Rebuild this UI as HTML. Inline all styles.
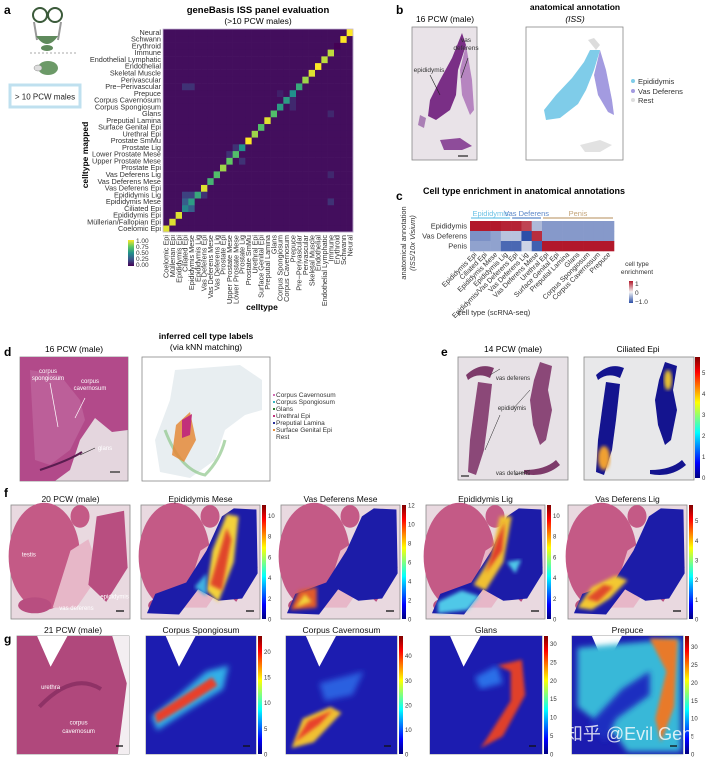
<!DOCTYPE html>
<html><head><meta charset="utf-8"><style>
html,body{margin:0;padding:0;background:#fff;}
svg{display:block;font-family:"Liberation Sans",Arial,sans-serif;}
</style></head><body>
<svg id="fig" width="720" height="764" viewBox="0 0 720 764" xmlns="http://www.w3.org/2000/svg">
<defs>
<linearGradient id="jet" x1="0" y1="1" x2="0" y2="0">
<stop offset="0" stop-color="#00007f"/><stop offset="0.125" stop-color="#0000ff"/><stop offset="0.375" stop-color="#00ffff"/><stop offset="0.625" stop-color="#ffff00"/><stop offset="0.875" stop-color="#ff0000"/><stop offset="1" stop-color="#7f0000"/>
</linearGradient>
<linearGradient id="vir" x1="0" y1="1" x2="0" y2="0">
<stop offset="0" stop-color="#440154"/><stop offset="0.25" stop-color="#3b528b"/><stop offset="0.5" stop-color="#21918c"/><stop offset="0.75" stop-color="#5ec962"/><stop offset="1" stop-color="#fde725"/>
</linearGradient>
<linearGradient id="rdbu" x1="0" y1="1" x2="0" y2="0">
<stop offset="0" stop-color="#2c4fa8"/><stop offset="0.5" stop-color="#f4f4f4"/><stop offset="1" stop-color="#b2182b"/>
</linearGradient>
<filter id="blur3"><feGaussianBlur stdDeviation="3"/></filter>
<filter id="blur2"><feGaussianBlur stdDeviation="1.8"/></filter>
</defs>

<!-- panel a -->
<text x="4" y="14" font-size="12" font-weight="bold">a</text>
<g>
<circle cx="40" cy="15" r="7" fill="none" stroke="#3b5a3a" stroke-width="2"/>
<circle cx="55" cy="15" r="7" fill="none" stroke="#3b5a3a" stroke-width="2"/>
<path d="M34 22 L37 40 M61 22 L58 40" stroke="#999" stroke-width="2" fill="none"/>
<path d="M36 36 Q47 52 58 36 Z" fill="#5f8a5c"/>
<ellipse cx="47" cy="48" rx="6" ry="3" fill="#5f8a5c"/>
<line x1="30" y1="53" x2="76" y2="53" stroke="#aaa" stroke-dasharray="2,2"/>
<ellipse cx="48" cy="68" rx="10" ry="7" fill="#6c9a68"/>
<ellipse cx="38" cy="68" rx="4" ry="3" fill="#ddd" stroke="#888" stroke-width="0.5"/>
</g>
<rect x="10" y="85" width="70" height="22" fill="#fff" stroke="#bfe0ef" stroke-width="3"/>
<text x="45" y="99.5" font-size="8" text-anchor="middle" fill="#222">&gt; 10 PCW males</text>
<text x="258" y="13" font-size="9.5" font-weight="bold" text-anchor="middle">geneBasis ISS panel evaluation</text>
<text x="258" y="24" font-size="8.5" text-anchor="middle">(&gt;10 PCW males)</text>
<g id="heatA"></g>
<text transform="translate(88,155) rotate(-90)" font-size="8.5" font-weight="bold" text-anchor="middle">celltype mapped</text>
<text x="262" y="310" font-size="8.5" font-weight="bold" text-anchor="middle">celltype</text>
<g>
<rect x="128" y="240" width="6" height="26" fill="url(#vir)"/>
<g font-size="6.5" fill="#333"><text x="136" y="243">1.00</text><text x="136" y="249">0.75</text><text x="136" y="255">0.50</text><text x="136" y="261">0.25</text><text x="136" y="267">0.00</text></g>
</g>

<!-- panel b -->
<text x="396" y="14" font-size="12" font-weight="bold">b</text>
<text x="445" y="22" font-size="8.5" text-anchor="middle">16 PCW (male)</text>
<text x="575" y="10" font-size="8.5" font-weight="bold" text-anchor="middle">anatomical annotation</text>
<text x="575" y="22" font-size="8.5" font-style="italic" text-anchor="middle">(ISS)</text>
<g>
<rect x="412" y="27" width="65" height="133" fill="#e9e3e8" stroke="#888" stroke-width="0.8"/>
<path d="M462 33 L466 45 L458 70 L456 95 L450 110 L436 120 L428 116 L430 100 L440 80 L452 58 Z" fill="#7a2f86"/>
<path d="M466 45 L472 80 L474 110 L470 115 L462 95 L460 70 Z" fill="#b685c0"/>
<path d="M440 140 L460 138 L472 146 L462 150 L444 150 Z" fill="#8e4c9a"/>
<path d="M420 115 L426 118 L424 128 L418 125 Z" fill="#aa7fb5"/>
<line x1="468" y1="58" x2="461" y2="78" stroke="#222" stroke-width="0.6"/>
<line x1="430" y1="75" x2="440" y2="95" stroke="#222" stroke-width="0.6"/>
<line x1="458" y1="156" x2="468" y2="156" stroke="#222" stroke-width="1.2"/>
<text x="466" y="42" font-size="6.5" text-anchor="middle" fill="#333">vas</text>
<text x="466" y="50" font-size="6.5" text-anchor="middle" fill="#333">deferens</text>
<text x="429" y="72" font-size="6.5" text-anchor="middle" fill="#333">epididymis</text>
</g>
<g>
<rect x="526" y="27" width="97" height="133" fill="#fff" stroke="#888" stroke-width="0.8"/>
<path d="M588 40 L594 38 L600 45 L596 50 Z" fill="#dcdcdc"/>
<path d="M590 50 L600 50 L594 70 L586 90 L578 104 L560 118 L546 120 L544 110 L556 95 L572 78 L584 62 Z" fill="#7fcce9"/>
<path d="M600 50 L606 70 L612 100 L614 115 L608 112 L598 95 L594 75 Z" fill="#a39be0"/>
<path d="M580 145 L600 140 L612 145 L600 152 L585 152 Z" fill="#e2e2e2"/>
</g>
<g font-size="7.5" fill="#333">
<circle cx="633" cy="81" r="2" fill="#7fcce9"/><text x="638" y="84">Epididymis</text>
<circle cx="633" cy="91" r="2" fill="#a39be0"/><text x="638" y="94">Vas Deferens</text>
<circle cx="633" cy="100" r="2" fill="#ddd"/><text x="638" y="103">Rest</text>
</g>

<!-- panel c -->
<text x="396" y="200" font-size="12" font-weight="bold">c</text>
<text x="423" y="194" font-size="9" font-weight="bold">Cell type enrichment in anatomical annotations</text>
<text transform="translate(406,243) rotate(-90)" font-size="7.5" text-anchor="middle" fill="#333">anatomical annotation</text>
<text transform="translate(415,243) rotate(-90)" font-size="7.5" font-style="italic" text-anchor="middle" fill="#333">(ISS/10x Visium)</text>
<g id="heatC"></g>
<text x="494" y="315" font-size="7.5" text-anchor="middle" fill="#333">cell type (scRNA-seq)</text>
<g>
<text x="637" y="266" font-size="6.5" text-anchor="middle" fill="#333">cell type</text>
<text x="637" y="274" font-size="6.5" text-anchor="middle" fill="#333">enrichment</text>
<rect x="629" y="281" width="4" height="22" fill="url(#rdbu)"/>
<g font-size="6.5" fill="#333"><text x="635" y="286">1</text><text x="635" y="295">0</text><text x="635" y="304">−1.0</text></g>
</g>

<!-- panel d -->
<text x="4" y="356" font-size="12" font-weight="bold">d</text>
<text x="74" y="352" font-size="8.5" text-anchor="middle">16 PCW (male)</text>
<text x="206" y="339" font-size="8.5" font-weight="bold" text-anchor="middle">inferred cell type labels</text>
<text x="206" y="350" font-size="8.5" text-anchor="middle">(via kNN matching)</text>
<g>
<rect x="20" y="357" width="108" height="124" fill="#e4d6de" stroke="#888" stroke-width="0.8"/>
<path d="M20 357 L128 357 L128 430 L112 432 L95 418 L80 440 L70 470 L55 481 L20 481 Z" fill="#b24a8a"/>
<path d="M30 370 L60 375 L80 400 L85 420 L70 450 L50 465 L35 460 Z" fill="#c068a0" opacity="0.7"/>
<path d="M40 470 Q70 460 82 452" stroke="#5a1d50" stroke-width="2" fill="none"/>
<g stroke="#fff" stroke-width="0.7"><line x1="50" y1="383" x2="58" y2="427"/><line x1="85" y1="398" x2="75" y2="418"/></g>
<line x1="95" y1="448" x2="80" y2="455" stroke="#222" stroke-width="0.6"/>
<g font-size="6" fill="#fff" text-anchor="middle"><text x="48" y="373">corpus</text><text x="48" y="380">spongiosum</text><text x="90" y="383">corpus</text><text x="90" y="390">cavernosum</text></g>
<text x="105" y="450" font-size="6" fill="#fff" text-anchor="middle">glans</text>
<line x1="110" y1="472" x2="120" y2="472" stroke="#222" stroke-width="1.2"/>
</g>
<g>
<rect x="142" y="357" width="128" height="124" fill="#fff" stroke="#888" stroke-width="0.8"/>
<path d="M175 370 L240 365 L262 380 L262 410 L245 415 L225 430 L215 460 L190 478 L160 472 L155 440 L170 400 Z" fill="#e8eef1"/>
<path d="M165 430 Q180 470 205 475 Q220 460 225 440" stroke="#8fc68a" stroke-width="3" fill="none" opacity="0.7"/>
<path d="M176 425 L190 412 L196 440 L184 462 L172 455 Z" fill="#e48a3a" opacity="0.85"/>
<path d="M182 420 L192 414 L190 435 L182 438 Z" fill="#c2307a"/>
</g>
<g font-size="6.5" fill="#333">
<rect x="273" y="394" width="2" height="2" fill="#d26fb5"/><text x="276" y="397">Corpus Cavernosum</text>
<rect x="273" y="401" width="2" height="2" fill="#39b6c1"/><text x="276" y="404">Corpus Spongiosum</text>
<rect x="273" y="408" width="2" height="2" fill="#2b7b2a"/><text x="276" y="411">Glans</text>
<rect x="273" y="415" width="2" height="2" fill="#c2307a"/><text x="276" y="418">Urethral Epi</text>
<rect x="273" y="422" width="2" height="2" fill="#2b2f9a"/><text x="276" y="425">Preputial Lamina</text>
<rect x="273" y="429" width="2" height="2" fill="#e48a3a"/><text x="276" y="432">Surface Genital Epi</text>
<text x="276" y="439">Rest</text>
</g>

<!-- panel e -->
<text x="441" y="356" font-size="12" font-weight="bold">e</text>
<text x="513" y="352" font-size="8.5" text-anchor="middle">14 PCW (male)</text>
<text x="638" y="352" font-size="8.5" text-anchor="middle">Ciliated Epi</text>
<g>
<rect x="458" y="357" width="110" height="123" fill="#e7e1e6" stroke="#888" stroke-width="0.8"/>
<path d="M466 375 Q480 362 494 368 L490 378 Q478 372 468 380 Z" fill="#7d3a6a"/>
<path d="M478 382 L492 384 L488 420 L484 450 L476 475 L468 472 L470 440 L474 410 Z" fill="#8b4878"/>
<path d="M540 362 L552 366 L548 390 L552 410 L546 440 L540 445 L533 425 L530 400 L534 380 Z" fill="#8b4878"/>
<path d="M524 470 Q545 470 556 460 L560 465 Q545 478 524 474 Z" fill="#7d3a6a"/>
<g stroke="#222" stroke-width="0.5"><line x1="490" y1="375" x2="500" y2="369"/><line x1="500" y1="415" x2="485" y2="450"/><line x1="512" y1="410" x2="530" y2="390"/><line x1="530" y1="470" x2="515" y2="475"/></g>
<g font-size="6" fill="#333" text-anchor="middle"><text x="513" y="380" >vas deferens</text><text x="512" y="410" >epididymis</text><text x="513" y="475">vas deferens</text></g>
<line x1="461" y1="476" x2="469" y2="476" stroke="#222" stroke-width="1.2"/>
</g>
<g>
<rect x="584" y="357" width="110" height="123" fill="#e8e8ea" stroke="#888" stroke-width="0.8"/>
<path d="M596 375 Q610 362 624 368 L620 378 Q608 372 598 380 Z" fill="#14148f"/>
<path d="M606 382 L620 384 L616 420 L612 450 L604 475 L596 472 L598 440 L602 410 Z" fill="#14148f"/>
<path d="M665 362 L677 366 L673 390 L677 410 L671 440 L665 445 L658 425 L655 400 L659 380 Z" fill="#14148f"/>
<path d="M650 470 Q671 470 682 460 L686 465 Q671 478 650 474 Z" fill="#14148f"/>
<ellipse cx="604" cy="458" rx="6" ry="12" fill="#f0a030" filter="url(#blur2)"/>
<ellipse cx="668" cy="380" rx="4" ry="10" fill="#e8c030" filter="url(#blur2)"/>
</g>
<g>
<rect x="695" y="357" width="5" height="121" fill="url(#jet)"/>
<g font-size="6" fill="#333"><text x="702" y="480">0</text><text x="702" y="459">1</text><text x="702" y="438">2</text><text x="702" y="417">3</text><text x="702" y="396">4</text><text x="702" y="375">5</text></g>
</g>

<!-- panels f and g -->
<text x="4" y="497" font-size="12" font-weight="bold">f</text>
<text x="4" y="643" font-size="12" font-weight="bold">g</text>
<g id="rowF"></g>
<g id="rowG"></g>
<text x="640" y="740" font-size="18" fill="#ffffff" opacity="0.8" text-anchor="middle" font-family="'Liberation Sans','Noto Sans CJK SC',sans-serif">知乎 @Evil Genius</text>
</svg>
<script>
// ---------- Panel a data ----------
const aCategories = ["Coelomic Epi","Müllerian/Fallopian Epi","Epididymis Epi","Ciliated Epi","Epididymis Mese","Epididymis Lig","Vas Deferens Epi","Vas Deferens Mese","Vas Deferens Lig","Prostate Epi","Upper Prostate Mese","Lower Prostate Mese","Prostate Lig","Prostate SmMu","Urethral Epi","Surface Genital Epi","Preputial Lamina","Glans","Corpus Spongiosum","Corpus Cavernosum","Prepuce","Pre−Perivascular","Perivascular","Skeletal Muscle","Endothelial","Endothelial Lymphatic","Immune","Erythroid","Schwann","Neural"];
const aXLabels = ["Coelomic Epi","Müllerian Epi","Epididymis Epi","Ciliated Epi","Epididymis Mese","Epididymis Lig","Vas Deferens Epi","Vas Deferens Mese","Vas Deferens Lig","Prostate Epi","Upper Prostate Mese","Lower Prostate Mese","Prostate Lig","Prostate SmMu","Urethral Epi","Surface Genital Epi","Preputial Lamina","Glans","Corpus Spongiosum","Corpus Cavernosum","Prepuce","Pre−Perivascular","Perivascular","Skeletal Muscle","Endothelial","Endothelial Lymphatic","Immune","Erythroid","Schwann","Neural"];
const aDiagonal = [0.95,0.95,0.95,0.45,0.55,0.6,0.95,0.65,0.7,0.85,0.75,0.7,0.5,1.0,0.85,0.7,0.95,0.7,0.55,0.55,0.5,0.6,0.85,0.95,1.0,0.9,0.9,0.0,1.0,1.0];
const aOffRows = [4,3,5,5,5,21,21,11,10,12,17,18,19,4,8,20];
const aOffCols = [3,4,3,4,6,3,4,10,12,11,26,20,20,26,26,18];
const aOffVals = [0.3,0.3,0.2,0.2,0.15,0.15,0.15,0.15,0.15,0.15,0.12,0.12,0.12,0.15,0.12,0.1];
const aTicks = ["1.00","0.75","0.50","0.25","0.00"];

// ---------- Panel c data ----------
const cRows = ["Epididymis","Vas Deferens","Penis"];
const cCols = ["Epididymis Epi","Ciliated Epi","Epididymis Mese","Epididymis Lig","Epididymis/Vas Deferens Epi","Vas Deferens Lig","Vas Deferens Mese","Urethral Epi","Surface Genital Epi","Preputial Lamina","Glans","Corpus Spongiosum","Corpus Cavernosum","Prepuce"];
const cEpididymis = [1,1,1,0.95,0.95,0.8,-0.35,-0.55,-0.55,-0.55,-0.55,-0.55,-0.55,-0.55];
const cVasDeferens = [-0.6,-0.6,-0.5,-0.3,-0.3,-1,0.9,-0.55,-0.55,-0.55,-0.55,-0.55,-0.55,-0.55];
const cPenis = [-0.5,-0.5,-0.5,-0.85,-0.85,-0.2,-0.9,1,1,1,1,1,1,1];
const cGroups = ["Epididymis","Vas Deferens","Penis"];
const cGroupStart = [0,4,7];
const cGroupEnd = [4,7,14];

// ---------- Panel f/g data ----------
const fTitles = ["20 PCW (male)","Epididymis Mese","Vas Deferens Mese","Epididymis Lig","Vas Deferens Lig"];
const fMax = [0,11,12,11,5.8];
const fTicks = [[],[0,2,4,6,8,10],[0,2,4,6,8,10,12],[0,2,4,6,8,10],[0,1,2,3,4,5]];
const gTitles = ["21 PCW (male)","Corpus Spongiosum","Corpus Cavernosum","Glans","Prepuce"];
const gMax = [0,23,48,32,33];
const gTicks = [[],[0,5,10,15,20],[0,10,20,30,40],[0,5,10,15,20,25,30],[0,5,10,15,20,25,30]];

const NS="http://www.w3.org/2000/svg";
function mk(tag,attrs,parent){const e=document.createElementNS(NS,tag);for(const k in attrs)e.setAttribute(k,attrs[k]);if(parent)parent.appendChild(e);return e;}
function lerp(a,b,t){return a+(b-a)*t;}
function hex(c){return [parseInt(c.slice(1,3),16),parseInt(c.slice(3,5),16),parseInt(c.slice(5,7),16)];}
function ramp(stops,v){v=Math.max(0,Math.min(1,v));const n=stops.length-1;const i=Math.min(n-1,Math.floor(v*n));const t=v*n-i;const a=hex(stops[i]),b=hex(stops[i+1]);return "rgb("+a.map((x,j)=>Math.round(lerp(x,b[j],t))).join(",")+")";}
const VIR=["#440154","#3b528b","#21918c","#5ec962","#fde725"];
const RDBU=["#2c4fa8","#f4f4f4","#b2182b"];

// Panel a heatmap
(function(){
 const g=document.getElementById("heatA");
 const X0=163,X1=353,Y0=29,Y1=232,n=aCategories.length;
 const cw=(X1-X0)/n, ch=(Y1-Y0)/n;
 const xs=c=>X0+c*cw, ys=r=>Y1-(r+1)*ch;
 const M=[];for(let r=0;r<n;r++){M.push([]);for(let c=0;c<n;c++)M[r].push(0.04);}
 for(let i=0;i<n;i++)M[i][i]=aDiagonal[i];
 for(let k=0;k<aOffRows.length;k++)M[aOffRows[k]][aOffCols[k]]=aOffVals[k];
 for(let r=0;r<n;r++)for(let c=0;c<n;c++){
  const cell=mk("rect",{x:xs(c),y:ys(r),width:cw+0.3,height:ch+0.3,fill:ramp(VIR,M[r][c])},g);
  
  
 }
 const fr=mk("rect",{x:X0,y:Y0,width:X1-X0,height:Y1-Y0,fill:"none",stroke:"#c9b8d8","stroke-width":0.8},g);
 for(let r=0;r<n;r++){
  const t=mk("text",{x:X0-2,y:ys(r)+ch/2+2.5,"font-size":7.3,"text-anchor":"end",fill:"#333"},g);
  t.textContent=aCategories[r];
  
  
 }
 for(let c=0;c<n;c++){
  const cx=xs(c)+cw/2+2.5;
  const t=mk("text",{transform:"translate("+cx+",235) rotate(-90)","font-size":7.3,"text-anchor":"end",fill:"#333"},g);
  t.textContent=aXLabels[c];
  
  
 }
})();

// Panel c heatmap
(function(){
 const g=document.getElementById("heatC");
 const X0=470,X1=614,Y0=221,Y1=251;
 const n=cCols.length,cw=(X1-X0)/n,ch=(Y1-Y0)/cRows.length;
 const data=[cEpididymis,cVasDeferens,cPenis];
 const xs=c=>X0+c*cw, ys=r=>Y0+r*ch;
 for(let r=0;r<cRows.length;r++){
  for(let c=0;c<n;c++){
   const cell=mk("rect",{x:xs(c),y:ys(r),width:cw+0.3,height:ch+0.3,fill:ramp(RDBU,(data[r][c]+1)/2)},g);
   
   
  }
  const t=mk("text",{x:X0-3,y:ys(r)+ch/2+2.5,"font-size":7.5,"text-anchor":"end",fill:"#333"},g);
  t.textContent=cRows[r];
  
  
 }
 for(let c=0;c<n;c++){
  const cx=xs(c)+cw/2+2;
  const t=mk("text",{transform:"translate("+cx+",255) rotate(-45)","font-size":7,"text-anchor":"end",fill:"#333"},g);
  t.textContent=cCols[c];
  
  
 }
 const gc=["#6fc3e6","#5b86c8","#c4a47a"];
 for(let k=0;k<cGroups.length;k++){
  const x1=xs(cGroupStart[k]),x2=xs(cGroupEnd[k]);
  const l=mk("line",{x1:x1+1,x2:x2-1,y1:218,y2:218,stroke:gc[k],"stroke-width":1.2},g);
  
  
  const t=mk("text",{x:(x1+x2)/2,y:216,"font-size":7.5,"text-anchor":"middle",fill:gc[k]},g);
  t.textContent=cGroups[k];
  
  
 }
})();

// rows f/g
function colorbar(parent,x,y,h,max,ticks){
 const cb=mk("rect",{x:x,y:y,width:4,height:h,fill:"url(#jet)"},parent);
 
 
 ticks.forEach(v=>{
  const t=mk("text",{x:x+6,y:y+h-(v/max)*h+2.5,"font-size":6,fill:"#333"},parent);
  t.textContent=v;
  
  
 });
}
function blob(parent,pts,color,filt){
 const p=mk("polygon",{points:pts.map(q=>q[0]+","+q[1]).join(" "),fill:color,filter:"url(#"+(filt||"blur2")+")"},parent);
 
 
}
(function(){
 const row=document.getElementById("rowF");
 const xs=[11,141,281,426,568], Y=505,H=114,W=119;
 for(let i=0;i<5;i++){
  const x=xs[i];
  const g=mk("g",{},row);
  
  
  const t=mk("text",{x:x+W/2,y:Y-3,"font-size":8.5,"text-anchor":"middle",fill:"#111"},row);
  t.textContent=fTitles[i];
  
  
  const P=(a,b)=>[x+a*W,Y+b*H];
  mk("rect",{x:x,y:Y,width:W,height:H,fill:"#e9d9e0",stroke:"#888","stroke-width":0.8},g);
  mk("ellipse",{cx:x+0.28*W,cy:Y+0.45*H,rx:0.3*W,ry:0.47*H,fill:"#c45a86"},g);
  mk("ellipse",{cx:x+0.58*W,cy:Y+0.1*H,rx:0.08*W,ry:0.1*H,fill:"#c45a86"},g);
  mk("polygon",{points:[P(0.35,0.9),P(0.5,0.4),P(0.65,0.3),P(0.75,0.6),P(0.55,0.9)].map(q=>q.join(",")).join(" "),fill:"#e7b7c8"},g);
  mk("polygon",{points:[P(0.72,0.1),P(0.95,0.05),P(0.98,0.55),P(0.8,0.85),P(0.65,0.7)].map(q=>q.join(",")).join(" "),fill:"#b84e80"},g);
  mk("ellipse",{cx:x+0.2*W,cy:Y+0.88*H,rx:0.14*W,ry:0.07*H,fill:"#b84e80"},g);
  if(i===0){
   [["testis",0.15,0.45],["epididymis",0.87,0.82],["vas deferens",0.55,0.92]].forEach(a=>{const tt=mk("text",{x:x+a[1]*W,y:Y+a[2]*H,"font-size":6,fill:"#fff","text-anchor":"middle"},g);tt.textContent=a[0];});
  } else {
   const region=[P(0.05,0.95),P(0.12,0.78),P(0.38,0.68),P(0.55,0.4),P(0.68,0.1),P(0.78,0.03),P(0.97,0.04),P(0.98,0.6),P(0.85,0.82),P(0.65,0.84),P(0.48,0.74),P(0.32,0.96)];
   mk("polygon",{points:region.map(q=>q.join(",")).join(" "),fill:"#1c1ca8"},g);
   if(i===1){blob(g,[P(0.55,0.75),P(0.6,0.4),P(0.72,0.08),P(0.82,0.1),P(0.78,0.5),P(0.65,0.85)],"#f3d23a");blob(g,[P(0.58,0.7),P(0.65,0.45),P(0.72,0.2),P(0.76,0.3),P(0.68,0.75)],"#e0442a");blob(g,[P(0.45,0.72),P(0.55,0.6),P(0.55,0.8)],"#40b0e0");}
   if(i===2){blob(g,[P(0.08,0.92),P(0.15,0.75),P(0.3,0.72),P(0.3,0.9)],"#e05a2a");blob(g,[P(0.12,0.9),P(0.2,0.78),P(0.26,0.85)],"#f3d23a");}
   if(i===3){blob(g,[P(0.4,0.7),P(0.55,0.45),P(0.62,0.1),P(0.72,0.1),P(0.65,0.5),P(0.5,0.75)],"#f0c030");blob(g,[P(0.5,0.6),P(0.6,0.3),P(0.66,0.15),P(0.64,0.4)],"#e03a2a");blob(g,[P(0.1,0.85),P(0.3,0.75),P(0.45,0.8),P(0.35,0.92),P(0.1,0.95)],"#50c8e8");blob(g,[P(0.68,0.5),P(0.8,0.48),P(0.75,0.6)],"#50c8e8");}
   if(i===4){blob(g,[P(0.08,0.9),P(0.2,0.72),P(0.4,0.62),P(0.5,0.66),P(0.35,0.82),P(0.2,0.92)],"#f3c830");blob(g,[P(0.15,0.82),P(0.3,0.7),P(0.38,0.72),P(0.25,0.85)],"#e04a2a");}
   colorbar(row,x+W+2,Y,H,fMax[i],fTicks[i]);
  }
  mk("line",{x1:x+W-14,x2:x+W-6,y1:Y+H-8,y2:Y+H-8,stroke:"#111","stroke-width":1.3},g);
 }
})();
(function(){
 const row=document.getElementById("rowG");
 const xs=[17,146,286,430,572], ws=[112,110,111,112,111], Y=636,H=118;
 for(let i=0;i<5;i++){
  const x=xs[i],W=ws[i];
  const g=mk("g",{},row);
  
  
  const t=mk("text",{x:x+W/2,y:Y-3,"font-size":8.5,"text-anchor":"middle",fill:"#111"},row);
  t.textContent=gTitles[i];
  
  
  const P=(a,b)=>[x+a*W,Y+b*H];
  const pts=[P(0,0),P(0.18,0),P(0.3,0.26),P(0.45,0),P(1,0),P(1,1),P(0,1)];
  const base = i===0?"#b0487c":"#1c1cb0";
  mk("rect",{x:x,y:Y,width:W,height:H,fill:i===0?"#f3eef1":"#c9a2b8",stroke:"#888","stroke-width":0.8},g);
  mk("polygon",{points:pts.map(q=>q.join(",")).join(" "),fill:base},g);
  mk("polygon",{points:[P(0.18,0),P(0.3,0.26),P(0.45,0)].map(q=>q.join(",")).join(" "),fill:"#fff"},g);
  if(i===0){
   mk("polygon",{points:[P(0.85,0),P(1,0),P(1,1),P(0.9,1),P(0.98,0.4)].map(q=>q.join(",")).join(" "),fill:"#f3eef1"},g);
   mk("path",{d:"M"+P(0.2,0.6).join(",")+" Q"+P(0.5,0.3).join(",")+" "+P(0.75,0.45).join(","),stroke:"#7a2458","stroke-width":4,fill:"none",opacity:0.6},g);
   [["urethra",0.3,0.45],["corpus",0.55,0.75],["cavernosum",0.55,0.82]].forEach(a=>{const tt=mk("text",{x:x+a[1]*W,y:Y+a[2]*H,"font-size":6,fill:"#fff","text-anchor":"middle"},g);tt.textContent=a[0];});
  } else {
   if(i===1){blob(g,[P(0.05,0.68),P(0.3,0.5),P(0.55,0.3),P(0.75,0.25),P(0.7,0.45),P(0.4,0.62),P(0.1,0.8)],"#30b0e8","blur3");blob(g,[P(0.08,0.66),P(0.35,0.5),P(0.6,0.35),P(0.65,0.42),P(0.35,0.6),P(0.1,0.74)],"#e8402a");}
   if(i===2){blob(g,[P(0.05,0.95),P(0.15,0.7),P(0.4,0.6),P(0.5,0.65),P(0.25,0.9)],"#f0c030","blur2");blob(g,[P(0.08,0.9),P(0.2,0.72),P(0.42,0.63),P(0.3,0.75)],"#e8402a");blob(g,[P(0.3,0.4),P(0.7,0.3),P(0.6,0.5),P(0.35,0.55)],"#2a60e0","blur3");}
   if(i===3){blob(g,[P(0.6,0.25),P(0.82,0.2),P(0.85,0.5),P(0.65,0.85),P(0.45,0.95),P(0.5,0.88),P(0.72,0.55),P(0.72,0.3)],"#e0402a");blob(g,[P(0.4,0.35),P(0.6,0.25),P(0.65,0.4),P(0.45,0.45)],"#2a70e8","blur3");}
   if(i===4){blob(g,[P(0.05,0.1),P(0.98,0.02),P(0.98,0.98),P(0.5,0.98),P(0.4,0.85),P(0.05,0.6)],"#39b8d8","blur3");blob(g,[P(0.15,0.75),P(0.45,0.45),P(0.7,0.3),P(0.7,0.5),P(0.4,0.7),P(0.3,0.9)],"#1f2fc0","blur3");blob(g,[P(0.7,0.02),P(0.95,0.03),P(0.92,0.6),P(0.8,0.9),P(0.75,0.7),P(0.85,0.3)],"#e87a2a","blur2");}
   colorbar(row,x+W+2,Y,H,gMax[i],gTicks[i]);
  }
  mk("line",{x1:x+W-13,x2:x+W-6,y1:Y+H-8,y2:Y+H-8,stroke:"#111","stroke-width":1.3},g);
 }
})();
</script>
</body></html>
